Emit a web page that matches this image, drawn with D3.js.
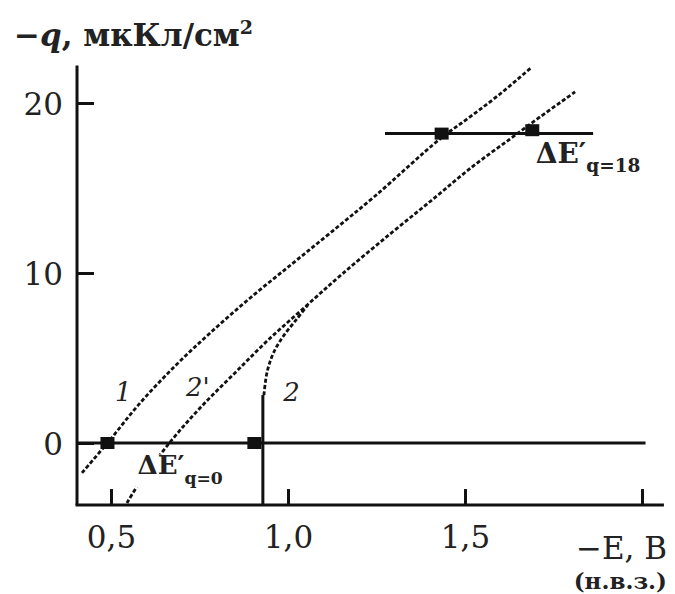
<!DOCTYPE html>
<html>
<head>
<meta charset="utf-8">
<script src="https://cdn.jsdelivr.net/npm/d3@7"></script>
<style>
  html, body { margin: 0; padding: 0; background: #fff; }
  svg { display: block; }
  text { font-family: "DejaVu Serif", "Liberation Serif", serif; fill: #222; }
</style>
</head>
<body>
<svg id="chart" width="675" height="594"></svg>
<script>
// ---- data ----
const xTicks = [0.5, 1.0, 1.5, 2.0];
const xTickLabels = ["0,5", "1,0", "1,5", ""];
const yTicks = [0, 10, 20];
const yTickLabels = ["0", "10", "20"];

// curve 1
const curve1E = [0.418, 0.497, 0.582, 0.681, 0.780, 0.893, 1.011, 1.119, 1.246, 1.429, 1.514, 1.599, 1.689];
const curve1Q = [-1.76, 0.18, 2.35, 4.53, 6.47, 8.53, 10.53, 12.35, 14.53, 17.88, 19.18, 20.53, 22.12];
// curve 2'
const curve2pE = [0.545, 0.582, 0.672, 0.757, 0.850, 0.944, 1.048, 1.153, 1.288, 1.410, 1.523, 1.627, 1.712, 1.811];
const curve2pQ = [-3.53, -2.29, 0.18, 2.18, 4.12, 6.06, 8.00, 9.94, 12.29, 14.35, 16.29, 17.88, 19.18, 20.65];
// curve 2: vertical solid part, then dashed part joining 2'
const curve2SolidE = [0.929, 0.929];
const curve2SolidQ = [-3.65, 2.82];
const curve2E = [0.932, 0.941, 0.960, 0.989, 1.023, 1.056];
const curve2Q = [2.82, 4.18, 5.35, 6.35, 7.24, 8.12];

// reference lines
const zeroLineE = [0.404, 2.01];
const upperLineE = [1.274, 1.862];
const upperLineQ = 18.2;

// markers
const markerE = [0.49, 0.905, 1.434, 1.69];
const markerQ = [0, 0, 18.2, 18.4];

// axis extents
const xDomain = [0.404, 2.062];
const yDomain = [-3.65, 22.2];

// ---- drawing ----
const svg = d3.select("#chart");
const x = d3.scaleLinear().domain([0.5, 2.0]).range([111, 642]);
const y = d3.scaleLinear().domain([0, 20]).range([443, 103]);

const ink = "#111";

// axis lines
svg.append("line")
  .attr("x1", x(xDomain[0])).attr("x2", x(xDomain[0]))
  .attr("y1", y(yDomain[1])).attr("y2", y(yDomain[0]))
  .attr("stroke", ink).attr("stroke-width", 3);
svg.append("line")
  .attr("x1", x(xDomain[0]) - 1.5).attr("x2", x(xDomain[1]))
  .attr("y1", y(yDomain[0])).attr("y2", y(yDomain[0]))
  .attr("stroke", ink).attr("stroke-width", 3);

// y axis ticks (inward)
const yAxis = d3.axisLeft(y).tickValues(yTicks)
  .tickFormat((d, i) => yTickLabels[i])
  .tickSizeInner(-17).tickSizeOuter(0).tickPadding(14);
const gy = svg.append("g").attr("transform", `translate(${x(xDomain[0])},0)`).call(yAxis);
gy.select(".domain").remove();
gy.selectAll(".tick line").attr("stroke", ink).attr("stroke-width", 3);
gy.selectAll(".tick text").attr("font-size", 31).attr("fill", "#333")
  .attr("font-family", "DejaVu Serif").attr("dy", "0.36em");

// x axis ticks (inward)
const xAxis = d3.axisBottom(x).tickValues(xTicks)
  .tickFormat((d, i) => xTickLabels[i])
  .tickSizeInner(-16).tickSizeOuter(0).tickPadding(32);
const gx = svg.append("g").attr("transform", `translate(0,${y(yDomain[0])})`).call(xAxis);
gx.select(".domain").remove();
gx.selectAll(".tick line").attr("stroke", ink).attr("stroke-width", 3);
gx.selectAll(".tick text").attr("font-size", 31).attr("fill", "#333")
  .attr("font-family", "DejaVu Serif").attr("dy", "0.36em");

// axis titles
svg.append("text").attr("x", 14).attr("y", 46).attr("font-size", 31)
  .attr("font-weight", "bold").attr("fill", "#333")
  .html('−<tspan font-style="italic">q</tspan>, мкКл/см<tspan font-size="19" dy="-12">2</tspan>');
svg.append("text").attr("x", 667).attr("y", 559).attr("font-size", 31)
  .attr("text-anchor", "end").attr("fill", "#333")
  .text("−E, B");
svg.append("text").attr("x", 667).attr("y", 589).attr("font-size", 23)
  .attr("text-anchor", "end").attr("font-weight", "bold").attr("fill", "#333")
  .attr("font-family", "DejaVu Serif Condensed, DejaVu Serif")
  .text("(н.в.з.)");

// reference horizontal lines
svg.append("line")
  .attr("x1", x(zeroLineE[0])).attr("x2", x(zeroLineE[1]))
  .attr("y1", y(0)).attr("y2", y(0))
  .attr("stroke", ink).attr("stroke-width", 3);
svg.append("line")
  .attr("x1", x(upperLineE[0])).attr("x2", x(upperLineE[1]))
  .attr("y1", y(upperLineQ)).attr("y2", y(upperLineQ))
  .attr("stroke", ink).attr("stroke-width", 3);

// curves
const line = d3.line().x(d => x(d[0])).y(d => y(d[1])).curve(d3.curveCatmullRom.alpha(0.5));
const zip = (a, b) => a.map((v, i) => [v, b[i]]);

function drawCurve(data, isDashed) {
  const p = svg.append("path").datum(data).attr("d", line)
    .attr("fill", "none").attr("stroke", ink)
    .attr("stroke-width", isDashed ? 2.8 : 3);
  if (isDashed) p.attr("stroke-dasharray", "4,2.2");
  return p;
}
drawCurve(zip(curve1E, curve1Q), true);
drawCurve(zip(curve2pE, curve2pQ), true);
drawCurve(zip(curve2SolidE, curve2SolidQ), false);
drawCurve(zip(curve2E, curve2Q), true);

// markers
svg.selectAll("rect.marker").data(zip(markerE, markerQ)).join("rect")
  .attr("class", "marker")
  .attr("x", d => x(d[0]) - 7).attr("y", d => y(d[1]) - 6)
  .attr("width", 14).attr("height", 12)
  .attr("fill", ink);

// curve labels
const curveLabels = [
  { t: "1", e: 0.535, q: 3.0 },
  { t: "2'", e: 0.745, q: 3.3 },
  { t: "2", e: 1.01, q: 3.0 }
];
svg.selectAll("text.clabel").data(curveLabels).join("text")
  .attr("class", "clabel")
  .attr("x", d => x(d.e)).attr("y", d => y(d.q))
  .attr("text-anchor", "middle").attr("dy", "0.36em")
  .attr("font-size", 26).attr("font-style", "italic").attr("fill", "#444")
  .text(d => d.t);

// ΔE annotations
function deltaLabel(xp, yp, sub, size) {
  const g = svg.append("g");
  const t = g.append("text").attr("x", xp).attr("y", yp).attr("font-size", size)
    .attr("fill", "#333").attr("font-weight", "bold")
    .attr("font-family", "Liberation Serif");
  t.append("tspan").text("ΔE′");
  t.append("tspan").attr("font-size", size * 0.66).attr("dy", size * 0.35).text(sub);
  const bb = t.node().getBBox();
  g.insert("rect", "text").attr("x", bb.x - 2).attr("y", bb.y + 4)
    .attr("width", bb.width + 4).attr("height", bb.height - 4).attr("fill", "#fff");
}
deltaLabel(x(0.575), y(-1.85), "q=0", 26);
deltaLabel(x(1.7), y(16.5), "q=18", 28);
</script>
</body>
</html>
